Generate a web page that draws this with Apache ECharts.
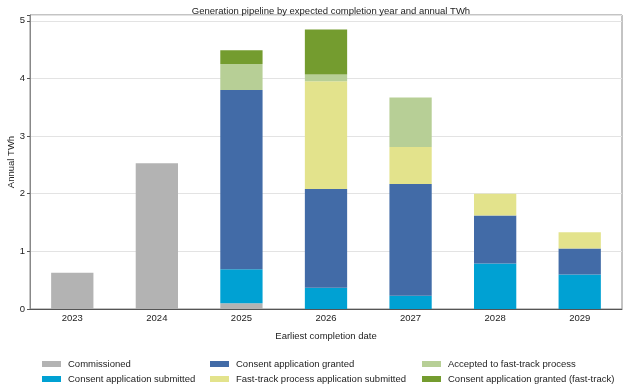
<!DOCTYPE html>
<html><head><meta charset="utf-8">
<script src="https://cdn.jsdelivr.net/npm/echarts@6/dist/echarts.min.js"></script>
<style>html,body{margin:0;padding:0;background:#fff}#c{width:627px;height:392px}</style>
</head><body><div id="c"></div>
<script>
var years = ['2023','2024','2025','2026','2027','2028','2029'];
var commissioned = [0.63, 2.53, 0.10, 0, 0, 0, 0];
var submitted    = [0, 0, 0.59, 0.37, 0.23, 0.79, 0.60];
var granted      = [0, 0, 3.11, 1.71, 1.94, 0.83, 0.45];
var ftSubmitted  = [0, 0, 0, 1.87, 0.64, 0.38, 0.28];
var ftAccepted   = [0, 0, 0.45, 0.12, 0.86, 0, 0];
var ftGranted    = [0, 0, 0.24, 0.78, 0, 0, 0];
var yTicks = [0, 1, 2, 3, 4, 5];

var names = ['Commissioned','Consent application submitted','Consent application granted',
  'Fast-track process application submitted','Accepted to fast-track process','Consent application granted (fast-track)'];
var colors = ['#b3b3b3','#00a1d3','#426ba7','#e3e38c','#b7cf96','#749c2f'];
var datas = [commissioned, submitted, granted, ftSubmitted, ftAccepted, ftGranted];
var FONT = 'Liberation Sans, Arial, sans-serif';
var FS = 9.5;

var series = datas.map(function(d,i){
  return {name:names[i], type:'bar', stack:'s', data:d, barWidth:'50%',
    itemStyle:{color:colors[i]}, emphasis:{disabled:true}};
});
function leg(left, items){
  return {orient:'vertical', left:left, top:359, height:40, padding:0, itemWidth:19, itemHeight:6, itemGap:5,
    data:items, selectedMode:false,
    textStyle:{fontFamily:FONT, fontSize:FS, color:'#222', padding:[0,0,0,2]}, icon:'rect'};
}
var chart = echarts.init(document.getElementById('c'), null, {renderer:'canvas'});
chart.setOption({
  animation:false,
  title:{text:'Generation pipeline by expected completion year and annual TWh', left:326, textAlign:'center', top:1,
    textStyle:{fontFamily:FONT, fontSize:FS, fontWeight:'normal', color:'#222'}},
  grid:{left:30, right:5, top:15, bottom:83, show:true, borderColor:'#888', borderWidth:1, outerBoundsMode:'none', containLabel:false},
  legend:[leg(42,[names[0],names[1]]), leg(210,[names[2],names[3]]), leg(422,[names[4],names[5]])],
  xAxis:{type:'category', data:years, name:'Earliest completion date', nameLocation:'middle', nameGap:22, nameMoveOverlap:false,
    nameTextStyle:{fontFamily:FONT, fontSize:FS, color:'#222'},
    axisLine:{lineStyle:{color:'#555'}}, axisTick:{alignWithLabel:true, length:3, lineStyle:{color:'#555'}},
    axisLabel:{fontFamily:FONT, fontSize:FS, color:'#222', margin:4}},
  yAxis:{type:'value', min:0, max:5.1, interval:1, name:'Annual TWh', nameLocation:'middle', nameGap:14, nameMoveOverlap:false,
    nameTextStyle:{fontFamily:FONT, fontSize:FS, color:'#222'},
    axisLine:{show:true, lineStyle:{color:'#888'}}, axisTick:{show:true, length:3, lineStyle:{color:'#555'}},
    axisLabel:{fontFamily:FONT, fontSize:FS, color:'#222', margin:5,
      formatter:function(v){return yTicks.indexOf(v)>=0 ? String(v) : '';}},
    splitLine:{lineStyle:{color:'#e3e3e3', width:1}}},
  series:series
});
</script></body></html>
